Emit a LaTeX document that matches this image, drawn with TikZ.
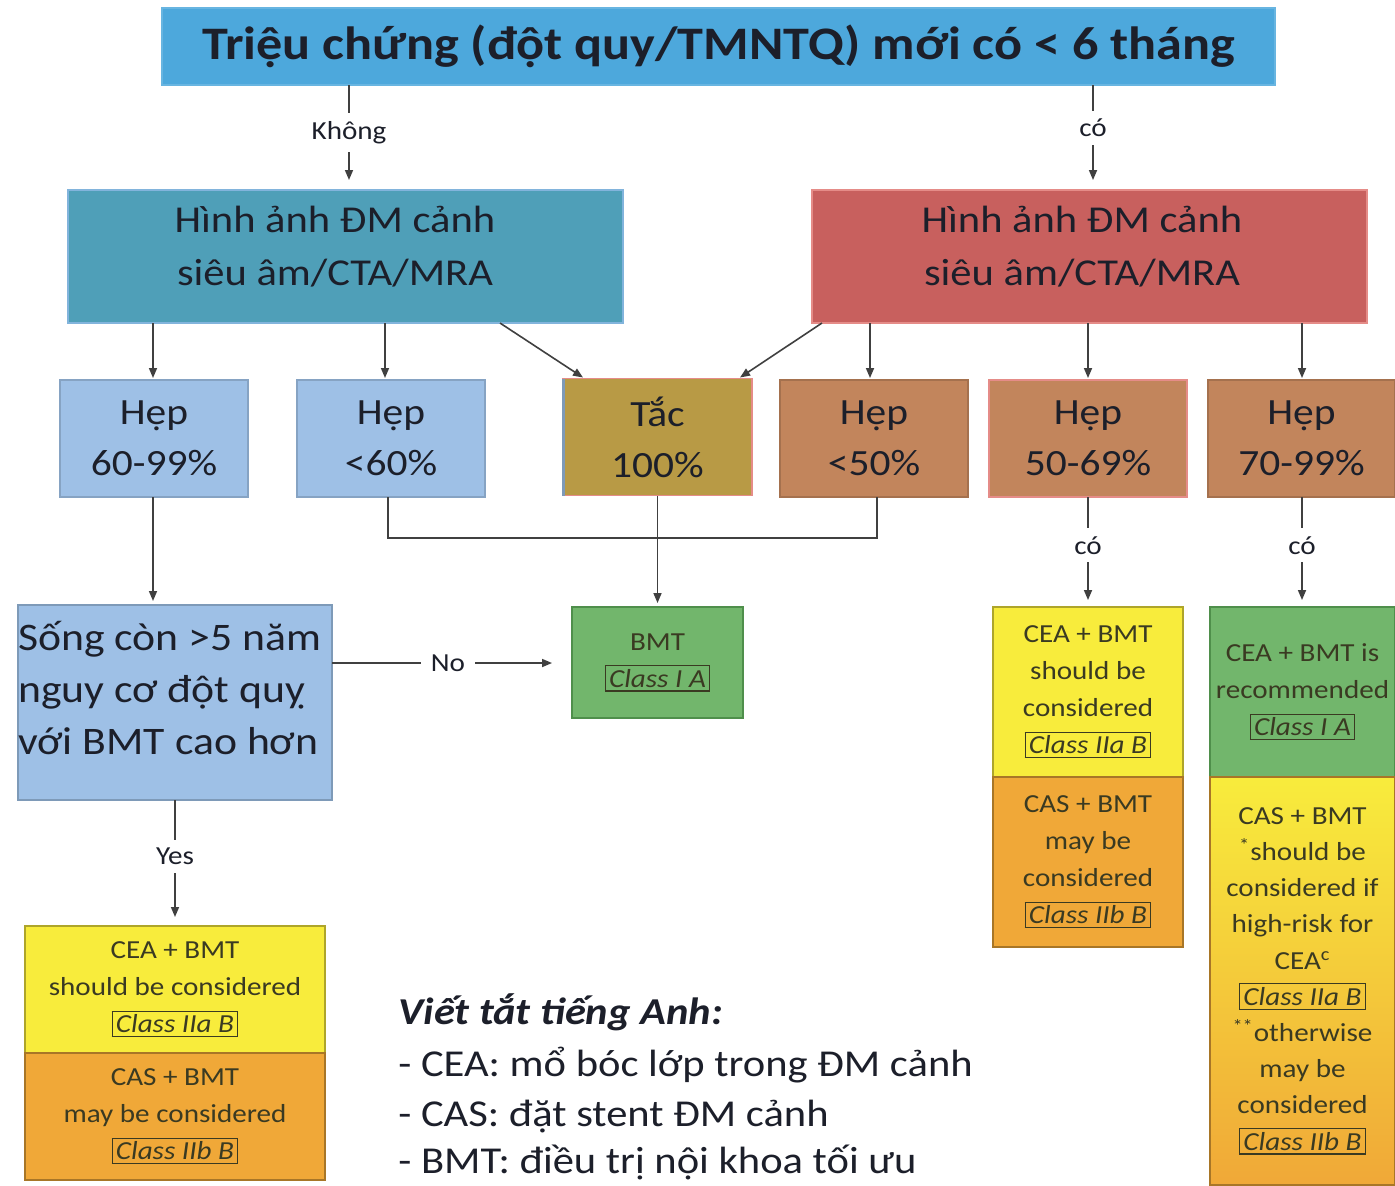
\documentclass[tikz,border=0pt]{standalone}
\usepackage{fontspec}
\setmainfont{Carlito}[FakeStretch=1.12]
\usetikzlibrary{arrows.meta,calc}
\definecolor{titleblue}{HTML}{4DA8DC}
\definecolor{tealc}{HTML}{4F9FB8}
\definecolor{tealborder}{HTML}{82B4DC}
\definecolor{redc}{HTML}{C8605E}
\definecolor{redborder}{HTML}{E58C88}
\definecolor{lightblue}{HTML}{9EC0E6}
\definecolor{goldc}{HTML}{B89A45}
\definecolor{brownc}{HTML}{C2855C}
\definecolor{greenc}{HTML}{72B66C}
\definecolor{greenborder}{HTML}{4F8F4B}
\definecolor{yellowc}{HTML}{F8EC3C}
\definecolor{orangec}{HTML}{F0A838}
\definecolor{linegray}{HTML}{404040}
\definecolor{textdark}{HTML}{1C1F2A}
\definecolor{clstext}{HTML}{3A3A22}
\newcommand\clsbox[1]{{\setlength\fboxsep{1.5pt}\setlength\fboxrule{0.6pt}\fbox{\itshape #1}}}
\begin{document}
\begin{tikzpicture}[x=0.5pt,y=-0.5pt,
  box/.style={rectangle, inner sep=0pt, outer sep=0pt, line width=0.8pt, align=center, text=textdark},
  bigtxt/.style={font=\fontsize{19}{26.5}\selectfont, align=center, text=textdark},
  midtxt/.style={font=\fontsize{18.5}{25.5}\selectfont},
  clstxt/.style={font=\fontsize{13}{18.5}\selectfont, text=clstext},
  conn/.style={draw=linegray, line width=0.8pt},
  arr/.style={conn, -{Triangle[length=5pt,width=4pt]}},
  lbl/.style={fill=white, inner xsep=3pt, inner ysep=4pt, font=\fontsize{13}{15}\selectfont, text=textdark},
  abbr/.style={anchor=base west, inner sep=0pt, font=\fontsize{19}{22}\selectfont, text=textdark}]
\useasboundingbox (0,0) rectangle (1395,1185);
\fill[white] (0,0) rectangle (1395,1185);

% title
\node[box, fill=titleblue, draw=titleblue!85!white, minimum width=556.5pt, minimum height=38.5pt,
  font=\bfseries\fontsize{23.3}{28}\selectfont] (title) at (718.5,46.5) {\raisebox{-1pt}{Triệu chứng (đột quy/TMNTQ) mới có < 6 tháng}};

% imaging boxes
\node[box, fill=tealc, draw=tealborder, line width=1.2pt, minimum width=277.5pt, minimum height=66.5pt] (teal) at (345.5,256.5) {};
\node[bigtxt] (tealtxt) at (335,246.5) {Hình ảnh ĐM cảnh\\siêu âm/CTA/MRA};
\node[box, fill=redc, draw=redborder, line width=1.2pt, minimum width=277.5pt, minimum height=66.5pt] (red) at (1089.5,256.5) {};
\node[bigtxt] (redtxt) at (1082,246.5) {Hình ảnh ĐM cảnh\\siêu âm/CTA/MRA};

% row 2
\node[box, midtxt, fill=lightblue, draw=lightblue!85!black, minimum width=94pt, minimum height=58.5pt] (b1) at (154,438.5) {Hẹp\\60-99\%};
\node[box, midtxt, fill=lightblue, draw=lightblue!85!black, minimum width=94pt, minimum height=58.5pt] (b2) at (391,438.5) {Hẹp\\<60\%};
\node[box, midtxt, fill=goldc, draw=redborder, minimum width=94.5pt, minimum height=58.5pt] (b3) at (657.5,437) {Tắc\\100\%};
\draw[draw=lightblue!80!black, line width=1.5pt] (b3.north west) -- (b3.south west);
\node[box, midtxt, fill=brownc, draw=brownc!85!black, minimum width=94pt, minimum height=58.5pt] (b4) at (874,438.5) {Hẹp\\<50\%};
\node[box, midtxt, fill=brownc, draw=redborder, minimum width=99pt, minimum height=58.5pt] (b5) at (1088,438.5) {Hẹp\\50-69\%};
\node[box, midtxt, fill=brownc, draw=brownc!85!black, minimum width=93.5pt, minimum height=58.5pt] (b6) at (1301.5,438.5) {Hẹp\\70-99\%};

% survival box
\node[box, fill=lightblue, draw=lightblue!80!black, minimum width=157pt, minimum height=97.5pt] (song) at (175,702.5) {};
\node[anchor=west, align=left, inner sep=0pt, font=\fontsize{19.5}{26}\selectfont, text=textdark] (songtxt) at (18,688) {Sống còn >5 năm\\nguy cơ đột quỵ\\với BMT cao hơn};

% BMT
\node[box, clstxt, fill=greenc, draw=greenborder, minimum width=85.5pt, minimum height=55.5pt] (bmt) at (657.5,662.5) {BMT\\\clsbox{Class I A}};

% left bottom
\node[box, clstxt, fill=yellowc, draw=yellowc!70!black, minimum width=150pt, minimum height=63.5pt] (lb1) at (175,989.5) {CEA + BMT\\should be considered\\\clsbox{Class IIa B}};
\node[box, clstxt, fill=orangec, draw=orangec!70!black, minimum width=150pt, minimum height=63.5pt] (lb2) at (175,1116.5) {CAS + BMT\\may be considered\\\clsbox{Class IIb B}};

% middle right
\node[box, clstxt, fill=yellowc, draw=yellowc!70!black, minimum width=95pt, minimum height=85pt] (mr1) at (1088,692) {CEA + BMT\\should be\\considered\\\clsbox{Class IIa B}};
\node[box, clstxt, fill=orangec, draw=orangec!70!black, minimum width=95pt, minimum height=85pt] (mr2) at (1088,862) {CAS + BMT\\may be\\considered\\\clsbox{Class IIb B}};

% far right
\node[box, clstxt, fill=greenc, draw=greenborder, minimum width=92.5pt, minimum height=85pt] (r1) at (1302.5,692) {CEA + BMT is\\recommended\\\clsbox{Class I A}};
\node[box, clstxt, top color=yellowc, bottom color=orangec, draw=orangec!70!black, minimum width=92.5pt, minimum height=204pt,
  font=\fontsize{13}{18.1}\selectfont] (r2) at (1302.5,981) {CAS + BMT\\\textsuperscript{*}should be\\considered if\\high-risk for\\CEA\textsuperscript{c}\\\clsbox{Class IIa B}\\\textsuperscript{**}otherwise\\may be\\considered\\\clsbox{Class IIb B}};

% abbreviations
\node[abbr, font=\bfseries\itshape\fontsize{19}{22}\selectfont] (ab0) at (398,1024) {Viết tắt tiếng Anh:};
\node[abbr] (ab1) at (398,1076) {- CEA: mổ bóc lớp trong ĐM cảnh};
\node[abbr] (ab2) at (398,1126) {- CAS: đặt stent ĐM cảnh};
\node[abbr] (ab3) at (398,1173) {- BMT: điều trị nội khoa tối ưu};

% connectors
\coordinate (xk) at (349,0);
\coordinate (xc) at (1093,0);
\coordinate (x1) at (153,0);
\coordinate (x2) at (385,0);
\coordinate (x2b) at (388,0);
\coordinate (x4) at (870,0);
\coordinate (xb4) at (877,0);
\coordinate (x6) at (1302,0);
\coordinate (xs) at (175,0);
\coordinate (yno) at (0,663);

\draw[arr, shorten >=5pt] (title.south -| xk) -- node[lbl, pos=0.45] (lk) {Không} (teal.north -| xk);
\draw[arr, shorten >=5pt] (title.south -| xc) -- node[lbl, pos=0.41] (lc) {có} (red.north -| xc);

\draw[arr, shorten >=1pt] (teal.south -| x1) -- (b1.north -| x1);
\draw[arr, shorten >=1pt] (teal.south -| x2) -- (b2.north -| x2);
\draw[arr] ($(teal.south west)+(432,0)$) -- ($(b3.north west)+(20,-1)$);
\draw[arr] ($(red.south west)+(10,0)$) -- ($(b3.north east)+(-12,-1)$);
\draw[arr, shorten >=1pt] (red.south -| x4) -- (b4.north -| x4);
\draw[arr, shorten >=1pt] (red.south -| b5.north) -- (b5.north);
\draw[arr, shorten >=1pt] (red.south -| x6) -- (b6.north -| x6);

\draw[arr, shorten >=2pt] (b1.south -| x1) -- (song.north -| x1);
\draw[conn] (b2.south -| x2b) -- ++(0,41) -| (b4.south -| xb4);
\draw[arr, shorten >=2pt] (b3.south) -- (bmt.north);

\draw[arr, shorten >=10pt] (song.east |- yno) -- node[lbl, inner xsep=5pt, pos=0.483] (lno) {No} (bmt.west |- yno);
\draw[arr, shorten >=4.5pt] (song.south -| xs) -- node[lbl, pos=0.45] (lyes) {Yes} (lb1.north -| xs);
\draw[arr, shorten >=3.5pt] (b5.south) -- node[lbl, pos=0.44] (lc2) {có} (mr1.north);
\draw[arr, shorten >=3.5pt] (b6.south -| x6) -- node[lbl, pos=0.44] (lc3) {có} (r1.north -| x6);
\end{tikzpicture}
\end{document}
